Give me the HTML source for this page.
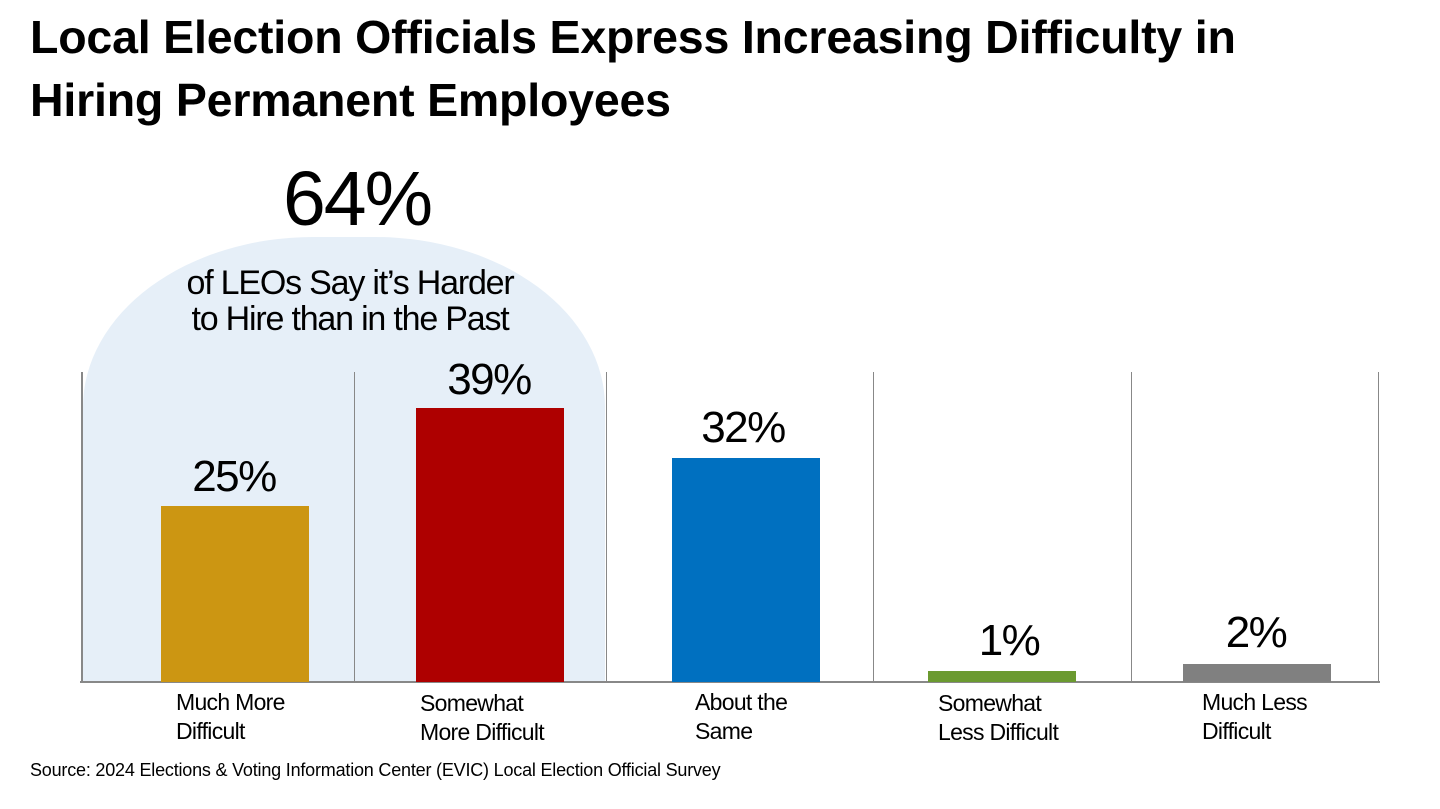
<!DOCTYPE html>
<html><head><style>
body{margin:0;width:1440px;height:809px;background:#fff;position:relative;overflow:hidden;font-family:"Liberation Sans",Arial,sans-serif;color:#000}
.a{position:absolute}
.t{left:30px;font-weight:bold;font-size:46.5px;letter-spacing:-0.2px;line-height:63px;top:6px}
.blob{left:83px;top:237px;width:522px;height:445px;background:#e6eff8;border-radius:230px 230px 0 0/170px 170px 0 0}
.v{width:2px;background:#888;top:372px;height:310px}
.bar{width:148px}
.val{font-size:44px;width:200px;text-align:center;letter-spacing:-1.5px}
.lab{font-size:23px;line-height:29px;letter-spacing:-0.7px}
</style></head><body>
<div class="a t">Local Election Officials Express Increasing Difficulty in<br>Hiring Permanent Employees</div>
<div class="a blob"></div>
<div class="a" style="left:200px;width:314px;text-align:center;top:155px;font-size:77px;letter-spacing:-2px">64%</div>
<div class="a" style="left:130px;width:440px;text-align:center;top:265px;font-size:34px;line-height:36px;letter-spacing:-1.2px">of LEOs Say it’s Harder<br>to Hire than in the Past</div>
<div class="a v" style="left:81px"></div>
<div class="a v" style="left:354px;width:1px"></div>
<div class="a v" style="left:606px;width:1px"></div>
<div class="a v" style="left:873px;width:1px"></div>
<div class="a v" style="left:1131px;width:1px"></div>
<div class="a v" style="left:1378px;width:1px"></div>
<div class="a" style="left:80px;top:681px;width:1300px;height:2px;background:#888"></div>
<div class="a bar" style="left:161px;top:506px;height:176px;background:#cc9612"></div>
<div class="a bar" style="left:416px;top:408px;height:274px;background:#ae0000"></div>
<div class="a bar" style="left:672px;top:458px;height:224px;background:#0070c0"></div>
<div class="a bar" style="left:928px;top:671px;height:11px;background:#6b9a30"></div>
<div class="a bar" style="left:1183px;top:664px;height:18px;background:#808080"></div>
<div class="a val" style="left:134px;top:452px">25%</div>
<div class="a val" style="left:389px;top:355px">39%</div>
<div class="a val" style="left:643px;top:403px">32%</div>
<div class="a val" style="left:909px;top:616px">1%</div>
<div class="a val" style="left:1156px;top:608px">2%</div>
<div class="a lab" style="left:176px;top:688px">Much More<br>Difficult</div>
<div class="a lab" style="left:420px;top:689px">Somewhat<br>More Difficult</div>
<div class="a lab" style="left:695px;top:688px">About the<br>Same</div>
<div class="a lab" style="left:938px;top:689px">Somewhat<br>Less Difficult</div>
<div class="a lab" style="left:1202px;top:688px">Much Less<br>Difficult</div>
<div class="a" style="left:30px;top:760px;font-size:18px;letter-spacing:-0.2px">Source: 2024 Elections &amp; Voting Information Center (EVIC) Local Election Official Survey</div>
</body></html>
